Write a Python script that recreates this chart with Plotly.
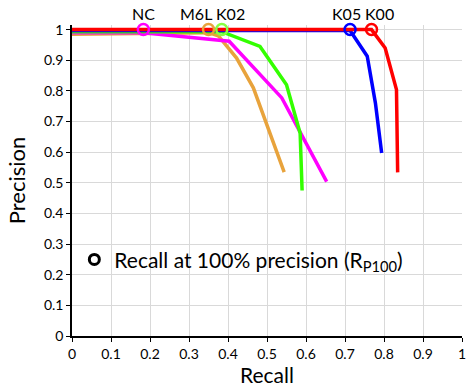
import plotly.graph_objects as go

# Precision-recall curves (recall, precision)
orange_recall = [0.0, 0.35, 0.375, 0.422, 0.465, 0.544]
orange_prec = [0.985, 0.99, 0.98, 0.907, 0.81, 0.535]

magenta_recall = [0.0, 0.183, 0.3, 0.403, 0.538, 0.653]
magenta_prec = [0.99, 0.99, 0.975, 0.962, 0.777, 0.504]

green_recall = [0.0, 0.384, 0.482, 0.55, 0.585, 0.59]
green_prec = [0.993, 0.993, 0.945, 0.82, 0.662, 0.475]

blue_recall = [0.0, 0.713, 0.757, 0.778, 0.794]
blue_prec = [0.997, 0.997, 0.913, 0.76, 0.597]

red_recall = [0.0, 0.768, 0.803, 0.832, 0.835]
red_prec = [1.0, 1.0, 0.94, 0.804, 0.534]

# Recall at 100% precision markers
rp100_labels = ["NC", "M6L", "K02", "K05", "K00"]
rp100_recall = [0.183, 0.35, 0.384, 0.713, 0.768]
rp100_prec = [1.0, 1.0, 1.0, 1.0, 1.0]
rp100_colors = ["#ff00ff", "#e8a33c", "#88ff44", "#0000ff", "#ff0000"]
label_xshift = [0, -13, 9, -4, 8]

ticks = [0, 0.1, 0.2, 0.3, 0.4, 0.5, 0.6, 0.7, 0.8, 0.9, 1]
tick_text = ["0", "0.1", "0.2", "0.3", "0.4", "0.5", "0.6", "0.7", "0.8", "0.9", "1"]

FONT = "Lato"

fig = go.Figure()
for xs, ys, c in [
    (orange_recall, orange_prec, "#e8a33c"),
    (magenta_recall, magenta_prec, "#ff00ff"),
    (green_recall, green_prec, "#33ff00"),
    (blue_recall, blue_prec, "#0000ff"),
    (red_recall, red_prec, "#ff0000"),
]:
    fig.add_trace(go.Scatter(x=xs, y=ys, mode="lines", line=dict(color=c, width=3.5),
                             showlegend=False, hoverinfo="skip"))

fig.add_trace(go.Scatter(
    x=rp100_recall, y=rp100_prec, mode="markers",
    marker=dict(symbol="circle-open", size=11, color=rp100_colors, line=dict(width=2.5)),
    cliponaxis=False, showlegend=False))

# legend entry
fig.add_trace(go.Scatter(
    x=[None], y=[None], mode="markers",
    marker=dict(symbol="circle-open", size=10, color="black", line=dict(width=3)),
    name="Recall at 100% precision (R<sub>P100</sub>)", showlegend=True))

for lab, xv, yv, dx in zip(rp100_labels, rp100_recall, rp100_prec, label_xshift):
    fig.add_annotation(x=xv, y=yv, text=lab, showarrow=False, xanchor="center",
                       yanchor="bottom", yshift=5, xshift=dx,
                       font=dict(family=FONT, size=16, color="black"))

fig.update_layout(
    width=466, height=387,
    margin=dict(l=72, r=4, t=25, b=51),
    paper_bgcolor="white", plot_bgcolor="white",
    font=dict(family=FONT, color="black"),
    legend=dict(x=0.006, y=0.245, xanchor="left", yanchor="middle",
                bgcolor="rgba(0,0,0,0)", font=dict(family=FONT, size=21, color="black"),
                itemwidth=30),
)
fig.update_xaxes(range=[0, 1], tickvals=ticks, ticktext=tick_text, automargin=False,
                 ticklabeloverflow="allow",
                 showgrid=True, gridcolor="#d9d9d9", gridwidth=1,
                 showline=True, linecolor="black", linewidth=1.5,
                 ticks="outside", ticklen=4, tickcolor="black",
                 tickfont=dict(family=FONT, size=14), zeroline=False,
                 title=dict(text="Recall", font=dict(family=FONT, size=21), standoff=1))
fig.update_yaxes(range=[0, 1.015], tickvals=ticks, ticktext=tick_text, automargin=False,
                 ticklabeloverflow="allow",
                 showgrid=True, gridcolor="#d9d9d9", gridwidth=1,
                 showline=True, linecolor="black", linewidth=1.5,
                 ticks="outside", ticklen=4, tickcolor="black",
                 tickfont=dict(family=FONT, size=14), zeroline=False,
                 title=dict(text="Precision", font=dict(family=FONT, size=22), standoff=12))

fig.write_html("out.html", config={"displayModeBar": False},
               post_script="document.body.style.margin='0';")
